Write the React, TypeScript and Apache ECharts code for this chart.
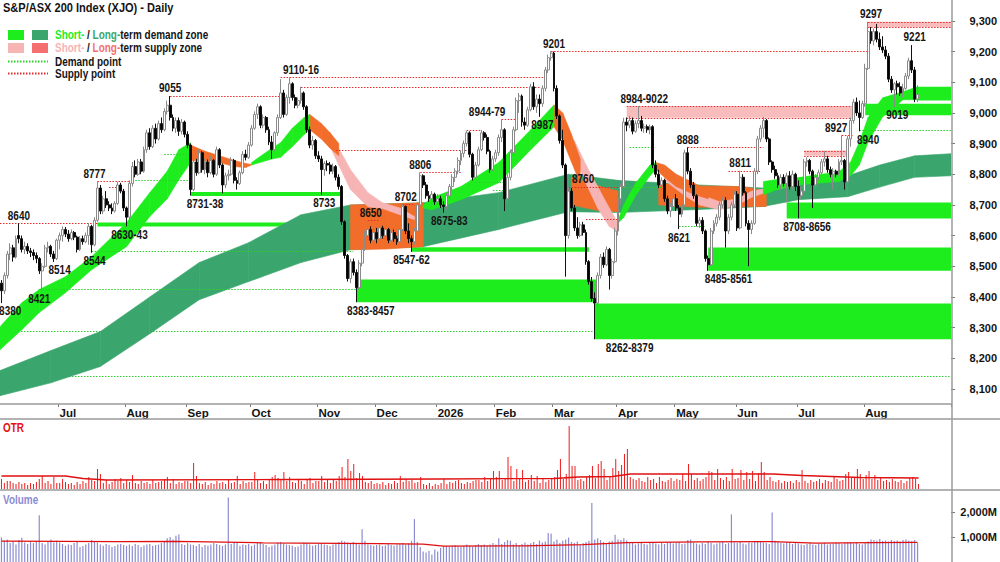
import React, { useEffect, useRef } from "react";
import * as echarts from "echarts";

// ---------------- DATA ----------------
const TOTAL_SLOTS = 327; // trading-day slots incl. blank space at right
const monthStarts = [20, 43, 64, 86, 109, 129, 150, 170, 190, 212, 232, 253, 274, 297];
const monthLabels = ["Jul", "Aug", "Sep", "Oct", "Nov", "Dec", "2026", "Feb", "Mar", "Apr", "May", "Jun", "Jul", "Aug"];
const priceTicks = [8100, 8200, 8300, 8400, 8500, 8600, 8700, 8800, 8900, 9000, 9100, 9200, 9300];
const volumeTicks = [1000, 2000];

// [open, close, low, high]
const jun25 = [[8445,8420,8380,8455],[8420,8470,8410,8480],[8470,8540,8460,8550],[8540,8560,8520,8575],[8560,8530,8515,8570],[8530,8590,8525,8600],[8600,8590,8575,8640],[8590,8555,8545,8600],[8555,8565,8540,8580],[8565,8550,8540,8575],[8550,8545,8530,8560],[8545,8535,8520,8555],[8535,8525,8510,8545],[8525,8485,8475,8530],[8485,8500,8421,8510],[8500,8560,8495,8570],[8560,8565,8545,8580],[8565,8540,8530,8570],[8540,8525,8514,8550],[8525,8585,8520,8590]];
const jul25 = [[8585,8600,8555,8610],[8600,8620,8580,8630],[8620,8605,8595,8628],[8605,8590,8580,8618],[8590,8610,8585,8620],[8610,8595,8585,8615],[8595,8555,8545,8600],[8555,8590,8550,8598],[8590,8580,8570,8600],[8580,8600,8575,8610],[8600,8630,8570,8640],[8630,8570,8544,8635],[8570,8650,8565,8660],[8650,8755,8645,8777],[8755,8680,8670,8765],[8680,8720,8670,8730],[8720,8700,8690,8745],[8700,8690,8680,8712],[8690,8680,8670,8705],[8680,8705,8675,8712],[8705,8765,8700,8775],[8765,8745,8738,8772],[8745,8690,8680,8752]];
const aug25 = [[8690,8660,8630,8695],[8660,8770,8643,8780],[8770,8825,8760,8840],[8825,8800,8790,8845],[8800,8840,8795,8850],[8840,8810,8800,8850],[8810,8880,8805,8890],[8880,8935,8870,8945],[8935,8890,8880,8950],[8890,8950,8885,8960],[8950,8915,8900,8965],[8915,8965,8910,8975],[8965,8945,8935,8985],[8945,9005,8940,9015],[9005,9025,8995,9040],[9025,8985,8975,9055],[8985,8950,8940,8995],[8950,8975,8935,8985],[8975,8940,8925,8985],[8940,8970,8930,8980],[8970,8930,8920,8975]];
const sep25 = [[8930,8895,8885,8940],[8895,8750,8731,8900],[8750,8840,8745,8860],[8840,8805,8795,8850],[8805,8870,8800,8880],[8870,8815,8805,8875],[8815,8840,8800,8850],[8840,8805,8790,8848],[8805,8845,8800,8860],[8845,8800,8790,8850],[8800,8880,8795,8890],[8880,8830,8820,8885],[8830,8765,8738,8835],[8765,8795,8755,8805],[8795,8800,8780,8815],[8800,8845,8795,8855],[8845,8780,8770,8850],[8780,8770,8750,8790],[8770,8805,8765,8812],[8805,8865,8800,8875],[8865,8855,8845,8880],[8855,8895,8850,8905]];
const oct25 = [[8895,8950,8890,8960],[8950,8995,8945,9005],[8995,9020,8980,9030],[9020,8960,8950,9025],[8960,8985,8950,8995],[8985,8945,8935,8990],[8945,8905,8895,8955],[8905,8880,8850,8925],[8880,8935,8875,8940],[8935,8985,8925,8995],[8985,9065,8980,9110],[9065,8995,8985,9075],[8995,9050,8990,9060],[9050,9095,9030,9116],[9095,9050,9040,9100],[9050,9025,9015,9060],[9025,9040,9015,9050],[9040,9065,9030,9085],[9065,9020,9010,9070],[9020,8945,8935,9025],[8945,8895,8885,8955],[8895,8910,8880,8925],[8910,8860,8850,8915]];
const nov25 = [[8860,8850,8840,8875],[8850,8815,8733,8860],[8815,8835,8795,8842],[8835,8830,8810,8845],[8830,8810,8800,8840],[8810,8825,8800,8835],[8825,8790,8780,8830],[8790,8760,8750,8800],[8760,8645,8635,8765],[8645,8535,8525,8650],[8535,8460,8450,8540],[8460,8515,8445,8525],[8515,8480,8470,8525],[8480,8430,8383,8490],[8430,8510,8425,8520],[8510,8555,8500,8565],[8555,8600,8550,8615],[8600,8620,8585,8650],[8620,8585,8575,8630],[8585,8610,8578,8625]];
const dec25 = [[8610,8590,8575,8625],[8590,8625,8585,8635],[8625,8600,8590,8632],[8600,8620,8590,8630],[8620,8585,8575,8625],[8585,8610,8578,8618],[8610,8590,8580,8620],[8590,8580,8570,8600],[8580,8620,8575,8628],[8620,8695,8615,8702],[8695,8615,8605,8698],[8615,8590,8575,8640],[8590,8580,8547,8600],[8580,8615,8570,8625],[8615,8700,8610,8710],[8700,8795,8695,8806],[8795,8765,8755,8800],[8765,8730,8720,8775],[8730,8720,8710,8745],[8720,8735,8715,8745],[8735,8710,8700,8740]];
const jan26 = [[8710,8720,8700,8735],[8720,8700,8690,8730],[8700,8695,8675,8712],[8695,8730,8683,8738],[8730,8760,8720,8768],[8760,8790,8745,8800],[8790,8810,8775,8820],[8810,8845,8800,8855],[8845,8868,8830,8878],[8868,8900,8855,8910],[8900,8935,8890,8942],[8935,8865,8855,8940],[8865,8790,8780,8870],[8790,8830,8785,8840],[8830,8880,8825,8890],[8880,8935,8875,8944],[8935,8920,8910,8940],[8920,8875,8865,8930],[8875,8815,8805,8880],[8815,8850,8810,8860]];
const feb26 = [[8850,8870,8840,8880],[8870,8920,8860,8930],[8920,8945,8905,8979],[8945,8720,8680,8950],[8720,8790,8705,8800],[8790,8870,8780,8880],[8870,8945,8860,8955],[8945,9040,8940,9050],[9040,9055,9000,9065],[9055,8970,8955,9060],[8970,8960,8945,8985],[8960,9010,8955,9020],[9010,9085,9005,9095],[9085,9020,9010,9100],[9020,9045,9000,9060],[9045,9030,8987,9060],[9030,9080,9020,9090],[9080,9140,9070,9150],[9140,9180,9130,9190],[9180,9195,9170,9201]];
const mar26 = [[9195,9080,9070,9200],[9080,8990,8980,9090],[8990,8910,8900,8995],[8910,8830,8820,8945],[8830,8600,8466,8835],[8600,8745,8590,8760],[8745,8690,8680,8755],[8690,8625,8615,8700],[8625,8600,8590,8660],[8600,8635,8595,8645],[8635,8610,8600,8645],[8610,8515,8505,8620],[8515,8450,8440,8520],[8450,8395,8385,8465],[8395,8380,8262,8415],[8380,8470,8370,8480],[8470,8530,8460,8540],[8530,8505,8495,8545],[8505,8555,8500,8565],[8555,8470,8424,8560],[8470,8515,8460,8525],[8515,8615,8510,8625]];
const apr26 = [[8615,8720,8600,8730],[8720,8760,8700,8770],[8760,8970,8755,8984],[8970,8960,8940,8985],[8960,8975,8950,8990],[8975,8940,8930,8985],[8940,8965,8935,8975],[8965,8975,8950,9022],[8975,8950,8940,8990],[8950,8955,8935,8965],[8955,8945,8935,8962],[8945,8955,8930,8962],[8955,8830,8820,8960],[8830,8800,8790,8845],[8800,8765,8755,8815],[8765,8780,8745,8790],[8780,8720,8710,8785],[8720,8680,8670,8730],[8680,8695,8660,8705],[8695,8720,8680,8740]];
const may26 = [[8720,8690,8680,8735],[8690,8670,8621,8700],[8670,8700,8660,8710],[8700,8870,8695,8880],[8870,8810,8800,8888],[8810,8765,8755,8820],[8765,8730,8720,8775],[8730,8640,8630,8735],[8640,8650,8625,8660],[8650,8615,8605,8660],[8615,8525,8515,8620],[8525,8505,8485,8535],[8505,8615,8500,8625],[8615,8640,8605,8650],[8640,8660,8630,8670],[8660,8700,8650,8710],[8700,8715,8690,8725],[8715,8615,8561,8725],[8615,8660,8605,8670],[8660,8700,8650,8710],[8700,8735,8690,8745]];
const jun26 = [[8735,8625,8615,8745],[8625,8790,8620,8811],[8790,8740,8730,8800],[8740,8640,8630,8745],[8640,8620,8500,8650],[8620,8640,8605,8650],[8640,8810,8635,8820],[8810,8915,8800,8925],[8915,8950,8905,8960],[8950,8975,8920,8987],[8975,8915,8905,8980],[8915,8840,8830,8920],[8840,8815,8805,8845],[8815,8795,8785,8828],[8795,8765,8755,8805],[8765,8790,8750,8800],[8790,8770,8760,8800],[8770,8795,8708,8805],[8795,8760,8750,8810],[8760,8800,8750,8812],[8800,8760,8745,8805]];
const jul26 = [[8760,8730,8656,8780],[8730,8745,8720,8760],[8745,8840,8740,8850],[8840,8845,8825,8855],[8845,8810,8800,8850],[8810,8765,8690,8815],[8765,8790,8755,8800],[8790,8805,8780,8815],[8805,8840,8800,8850],[8840,8850,8825,8875],[8850,8815,8805,8860],[8815,8800,8790,8825],[8800,8810,8750,8820],[8810,8800,8790,8815],[8800,8840,8795,8850],[8840,8845,8830,8927],[8845,8775,8750,8850],[8775,8915,8770,8925],[8915,8975,8890,8985],[8975,9035,8965,9045],[9035,9000,8990,9050],[9000,8985,8940,9040],[8985,9030,8980,9040]];
const aug26 = [[9030,9145,9020,9160],[9145,9265,9140,9297],[9265,9235,9225,9280],[9235,9265,9220,9275],[9265,9240,9230,9290],[9240,9215,9205,9262],[9215,9205,9195,9250],[9205,9185,9175,9218],[9185,9110,9100,9195],[9110,9075,9065,9120],[9075,9095,9019,9100],[9095,9085,9060,9105],[9085,9065,9055,9100],[9065,9080,9050,9095],[9080,9120,9075,9130],[9120,9170,9110,9180],[9170,9140,9130,9221],[9140,9045,9035,9150],[9045,9060,9035,9090]];

// OTR (relative units)
const otrJun25 = [10,6,8,8,6,5,7,5,6,4,6,5,7,10,13,6,8,5,12,6];
const otrJul25 = [6,10,7,5,6,4,7,5,8,6,12,9,8,20,15,6,9,5,7,10,8,11,6];
const otrAug25 = [9,7,14,6,5,8,6,7,5,9,6,7,8,10,12,6,10,5,7,6,8];
const otrSep25 = [8,6,26,13,6,5,7,4,6,5,8,6,7,5,9,6,7,13,5,8,6,7];
const otrOct25 = [7,17,9,6,8,5,10,12,14,11,9,17,8,12,7,6,10,8,5,9,11,6,8];
const otrNov25 = [8,13,7,9,6,10,8,13,22,12,30,18,25,11,16,13,7,6,8,5];
const otrDec25 = [6,5,7,4,6,5,8,6,13,7,10,8,9,6,7,12,5,4,6,3,5];
const otrJan26 = [4,6,10,5,7,6,8,9,6,5,7,6,8,9,9,7,12,8,10,18];
const otrFeb26 = [12,18,9,10,32,23,8,20,11,19,7,9,14,8,13,6,10,7,9,11];
const otrMar26 = [12,19,30,10,15,63,23,23,9,10,8,12,14,23,11,25,28,20,9,12,21,30];
const otrApr26 = [18,24,35,40,12,10,9,11,8,7,12,9,10,6,12,8,7,9,11,8];
const otrMay26 = [10,9,15,8,25,15,9,11,8,10,12,18,17,9,20,11,9,12,8,20,10];
const otrJun26 = [11,19,9,17,10,18,8,16,27,17,9,12,8,7,9,6,8,7,8,6,9];
const otrJul26 = [7,19,8,6,9,7,8,10,6,9,8,7,12,10,8,9,15,17,11,12,20,15,10];
const otrAug26 = [14,18,10,14,9,12,8,9,7,10,8,7,9,6,8,11,12,10,5];
const otrAvgKnots = [[0,13],[22,13],[28,10.5],[36,9],[100,9.5],[150,10],[190,10.5],[198,12],[210,12.5],[216,15],[265,15],[275,13.5],[285,12.5],[295,11.5],[315,11]];

// Volume (millions)
const volJun25 = [980,850,900,760,820,700,880,970,780,720,800,760,840,1870,760,700,820,900,780,850];
const volJul25 = [780,720,650,700,680,760,820,600,640,700,760,880,800,780,700,650,720,680,600,640,700,720,680];
const volAug25 = [650,700,640,720,680,600,660,700,720,650,680,700,760,820,950,1000,900,1050,1100,720,680];
const volSep25 = [760,700,680,640,720,600,680,650,700,760,720,680,640,700,2580,720,800,780,650,700,680,720];
const volOct25 = [640,700,760,800,720,680,600,650,700,780,800,750,700,680,650,600,620,700,780,760,700,650,680];
const volNov25 = [720,760,700,680,640,700,760,800,850,820,780,760,800,720,700,1310,850,700,680,650];
const volDec25 = [680,700,640,660,720,680,650,700,720,760,700,740,850,1720,800,600,420,380,450,300,500];
const volJan26 = [420,560,620,640,600,650,680,620,600,640,700,650,620,680,720,680,700,650,700,760];
const volFeb26 = [700,950,720,800,880,850,700,760,680,720,780,700,750,800,720,860,780,820,1160,1140];
const volMar26 = [820,900,760,850,900,980,800,760,820,700,760,800,850,2360,900,950,880,800,760,820,850,1090];
const volApr26 = [900,880,950,860,800,760,700,740,780,720,700,760,800,740,700,760,720,780,800,740];
const volMay26 = [760,800,720,740,880,900,780,740,700,760,720,800,760,700,740,780,800,720,760,1910,780];
const volJun26 = [760,800,740,700,780,760,820,800,840,780,760,720,1980,850,800,760,740,800,780,720,760];
const volJul26 = [740,700,680,720,760,700,680,720,740,760,700,720,740,780,760,720,760,800,780,740,760,720,700];
const volAug26 = [760,820,900,880,860,920,840,860,820,880,840,860,820,880,900,860,840,880,760];
const volAvgKnots = [[0,840],[40,820],[60,830],[90,770],[130,740],[145,720],[152,640],[180,650],[200,700],[215,780],[240,810],[265,820],[280,760],[300,780],[315,790]];

// Bands: [slot, lower, upper]
const longTermBand = [[0,8078,8160],[17,8120,8225],[34,8173,8287],[51,8280,8400],[68,8391,8512],[85,8450,8577],[103,8512,8668],[120,8554,8700],[145,8564,8707],[171,8620,8740],[195,8678,8800],[212,8675,8780],[240,8685,8765],[262,8695,8755],[274,8717,8766],[291,8727,8795],[302,8758,8830],[314,8790,8860],[326,8795,8867]];
const longTermSupply = [
  [[120,8554,8700],[132,8556,8703],[145,8564,8707]],
  [[196,8700,8790],[206,8680,8760],[212,8678,8745]],
  [[226,8700,8770],[240,8692,8762],[255,8694,8760],[263,8695,8745]],
];
const shortTermDemand = [
  [[0,8228,8303],[7,8293,8381],[13,8349,8424],[22,8414,8466],[31,8489,8531],[43,8564,8642],[51,8662,8740],[57,8720,8810],[61,8782,8880],[65,8838,8903]],
  [[86,8830,8838],[93,8850,8885],[96,8855,8903],[100,8890,8950],[104,8929,8984],[106,8945,8995]],
  [[145,8690,8700],[148,8684,8723],[158,8717,8760],[171,8772,8838],[182,8880,8945],[190,8955,9026]],
  [[212,8640,8650],[214,8660,8700],[218,8730,8770],[223,8795,8830],[225,8815,8838]],
  [[262,8733,8776],[266,8748,8782],[274,8766,8789],[288,8776,8808],[292,8795,8840],[295,8830,8905],[298,8905,8985],[303,8987,9049],[310,9043,9069],[315,9043,9085]],
];
const shortTermSupply = [
  [[65,8845,8895],[70,8843,8875],[75,8838,8860],[80,8825,8845],[84,8822,8835],[86,8830,8832]],
  [[106,8945,8995],[110,8915,8965],[113,8885,8935],[116,8860,8900]],
  [[190,8955,9026],[193,8910,9000],[196,8840,8930],[199,8770,8850]],
  [[225,8815,8838],[228,8790,8830],[232,8760,8800],[238,8735,8772],[243,8720,8745]],
];
const shortTermSupplyFade = [
  [[113,8890,8935],[118,8790,8850],[120,8750,8815],[126,8694,8740],[131,8688,8707],[137,8668,8690],[142,8652,8662]],
  [[197,8860,8910],[201,8770,8830],[205,8690,8760],[209,8630,8690],[212,8613,8640]],
  [[228,8780,8800],[235,8730,8770],[240,8700,8735],[247,8684,8710],[253,8700,8720],[258,8725,8745],[262,8738,8752]],
];

// Horizontal zones: [startSlot, endSlot, low, high]
const demandZones = [[33,105,8630,8643],[65,117,8729,8742],[122,205,8383,8457],[141,202,8547,8562],[204,326,8262,8379],[243,326,8485,8561],[270,326,8656,8708],[297,326,8992,9030],[315,326,9040,9085]];
const supplyZones = [[215,293,8984,9022],[276,291,8860,8877],[298,326,9280,9297]];

// Dotted points: [startSlot, endSlot, level]
const supplyPoints = [[0,33,8640],[33,44,8777],[37,41,8760],[58,96,9055],[96,187,9116],[103,185,9085],[189,298,9201],[115,160,8880],[144,158,8806],[138,142,8702],[126,130,8650],[160,165,8944],[172,177,8979],[195,214,8760],[201,212,8655],[236,262,8888],[250,261,8811],[289,293,8927]];
const demandPoints = [[0,326,8290],[0,326,8143],[13,122,8427],[31,121,8551],[45,66,8782],[56,64,8867],[163,173,8775],[169,175,8750],[216,223,8890],[213,227,8760],[233,242,8630],[295,326,8945]];

// Annotations: [text, slot, level]
const supplyLabels = [["8640",6,8640],["8777",32,8777],["9055",58,9055],["9110-16",103,9116],["8650",127,8650],["8702",139,8702],["8806",144,8806],["8944-79",167,8979],["9201",190,9201],["8760",200,8760],["8984-9022",221,9022],["8888",236,8888],["8811",254,8811],["8927",287,8927],["9297",299,9297],["9221",314,9221]];
const demandLabels = [["8380",3,8380],["8421",13,8421],["8514",20,8514],["8544",32,8544],["8630-43",44,8630],["8731-38",70,8731],["8733",111,8733],["8383-8457",127,8383],["8547-62",141,8547],["8675-83",154,8675],["8987",186,8987],["8262-8379",216,8262],["8621",233,8621],["8485-8561",250,8485],["8708-8656",277,8656],["8940",298,8940],["9019",308,9019]];

// ---------------- STYLE ----------------
const FONT = "Liberation Sans, Arial, sans-serif";
const NARROW = 0.83; // horizontal squeeze to mimic the condensed face of the original
const COL = {
  bright: "#1ded1d",
  dark: "#3aa66d",
  orange: "#f26c2a",
  pink: "#f7b4b4",
  supplyZone: "#f8bcbc",
  salmon: "#f47070",
  red: "#e52c2c",
  green: "#2ccf2c",
  axis: "#9a9a9a",
  text: "#141414",
  otr: "#ee1c1c",
  vol: "#8c8cd2",
};
const LAST = TOTAL_SLOTS - 1;

function buildOption() {
  const candles = [...jun25, ...jul25, ...aug25, ...sep25, ...oct25, ...nov25, ...dec25, ...jan26, ...feb26, ...mar26, ...apr26, ...may26, ...jun26, ...jul26, ...aug26];
  const otr = [...otrJun25, ...otrJul25, ...otrAug25, ...otrSep25, ...otrOct25, ...otrNov25, ...otrDec25, ...otrJan26, ...otrFeb26, ...otrMar26, ...otrApr26, ...otrMay26, ...otrJun26, ...otrJul26, ...otrAug26];
  const vol = [...volJun25, ...volJul25, ...volAug25, ...volSep25, ...volOct25, ...volNov25, ...volDec25, ...volJan26, ...volFeb26, ...volMar26, ...volApr26, ...volMay26, ...volJun26, ...volJul26, ...volAug26];
  const cats = Array.from({ length: TOTAL_SLOTS }, (_, i) => String(i));
  const monthMap = new Map<number, string>();
  monthStarts.forEach((s, k) => monthMap.set(s, monthLabels[k]));

  const xPix = (params: any, api: any, idx: number) => {
    const cs = params.coordSys;
    if (idx <= 0) return cs.x;
    if (idx >= LAST) return cs.x + cs.width;
    return api.coord([idx, priceTicks[0]])[0];
  };
  const yPix = (api: any, v: number) => api.coord([0, v])[1];

  const bandSeries = (segs: number[][][], color: string, z: number) => {
    const items: number[][] = [];
    segs.forEach((seg) => {
      for (let k = 0; k < seg.length - 1; k++) items.push([seg[k][0], seg[k][1], seg[k][2], seg[k + 1][0], seg[k + 1][1], seg[k + 1][2]]);
    });
    return {
      type: "custom", xAxisIndex: 0, yAxisIndex: 0, z, silent: true, clip: true,
      data: items,
      encode: { x: [0, 3], y: [1, 2, 4, 5] },
      renderItem: (params: any, api: any) => {
        const x0 = xPix(params, api, api.value(0));
        const x1 = xPix(params, api, api.value(3));
        return {
          type: "polygon",
          shape: { points: [[x0, yPix(api, api.value(1))], [x1, yPix(api, api.value(4))], [x1, yPix(api, api.value(5))], [x0, yPix(api, api.value(2))]] },
          style: { fill: color, stroke: color, lineWidth: 0.6 },
        };
      },
    };
  };

  const rectSeries = (zones: number[][], color: string, z: number) => ({
    type: "custom", xAxisIndex: 0, yAxisIndex: 0, z, silent: true, clip: true,
    data: zones,
    encode: { x: [0, 1], y: [2, 3] },
    renderItem: (params: any, api: any) => {
      const x0 = xPix(params, api, api.value(0));
      const x1 = xPix(params, api, api.value(1));
      const y0 = yPix(api, api.value(3));
      const y1 = yPix(api, api.value(2));
      return { type: "rect", shape: { x: x0, y: y0, width: x1 - x0, height: Math.max(1, y1 - y0) }, style: { fill: color } };
    },
  });

  const dottedSeries = (pts: number[][], color: string, z: number) => ({
    type: "custom", xAxisIndex: 0, yAxisIndex: 0, z, silent: true, clip: true,
    data: pts,
    encode: { x: [0, 1], y: [2] },
    renderItem: (params: any, api: any) => {
      const x0 = xPix(params, api, api.value(0));
      const x1 = xPix(params, api, api.value(1));
      const y = Math.round(yPix(api, api.value(2))) + 0.5;
      return { type: "line", shape: { x1: x0, y1: y, x2: x1, y2: y }, style: { stroke: color, lineWidth: 1, lineDash: [1.5, 1.5] } };
    },
  });

  const supplyEdges: number[][] = [];
  supplyZones.forEach((zn) => { supplyEdges.push([zn[0], zn[1], zn[2]]); supplyEdges.push([zn[0], zn[1], zn[3]]); });

  // annotation texts, drawn through the axes, squeezed horizontally
  const labelSeries = (labels: any[], above: boolean) => ({
    type: "custom", xAxisIndex: 0, yAxisIndex: 0, z: 20, silent: true, clip: false,
    data: labels.map((l, k) => [l[1], l[2], k]),
    encode: { x: [0], y: [1] },
    renderItem: (params: any, api: any) => {
      const p = api.coord([api.value(0), api.value(1)]);
      const text = labels[api.value(2)][0];
      return {
        type: "text", x: p[0], y: above ? p[1] - 2 : p[1] + 2, scaleX: NARROW,
        style: { text, fill: COL.text, font: `bold 12px ${FONT}`, align: "center", verticalAlign: above ? "bottom" : "top" },
      };
    },
  });

  const avgLine = (knots: number[][], x: number, color: string) => ({
    type: "line", xAxisIndex: x, yAxisIndex: x, z: 5, silent: true, showSymbol: false, symbol: "none",
    data: knots, lineStyle: { color, width: 1.3 },
  });

  const labelFont = { fontFamily: FONT, fontWeight: "bold", fontSize: 11, color: COL.text };

  const hiddenX = (g: number) => ({ type: "category", gridIndex: g, data: cats, boundaryGap: true, show: false });

  const legendText = (x: number, y: number, text: string, rich?: any, fill = COL.text, size = 12, sx = NARROW) => ({
    type: "text", x, y, scaleX: sx, silent: true,
    style: { text, fill, font: `bold ${size}px ${FONT}`, verticalAlign: "middle", rich },
  });
  const richBase = { fontFamily: FONT, fontWeight: "bold", fontSize: 12 };

  return {
    animation: false,
    backgroundColor: "#ffffff",
    grid: [
      { left: 0, right: 48, top: 0, height: 404 },
      { left: 0, right: 48, top: 419, height: 70 },
      { left: 0, right: 48, top: 490, height: 75 },
    ],
    xAxis: [
      {
        type: "category", gridIndex: 0, data: cats, boundaryGap: true,
        axisLine: { show: false },
        axisTick: { show: true, interval: (idx: number) => monthMap.has(idx), length: 3, lineStyle: { color: "#777" } },
        axisLabel: { interval: (idx: number) => monthMap.has(idx), formatter: (v: string) => monthMap.get(Number(v)) || "", align: "left", margin: 3, ...labelFont, fontSize: 11.5 },
        splitLine: { show: false },
      },
      hiddenX(1),
      hiddenX(2),
    ],
    yAxis: [
      {
        type: "value", gridIndex: 0, position: "right", min: 8051, max: 9368, scale: true,
        splitLine: { show: false }, axisLine: { show: false },
        axisTick: { show: true, length: 4, customValues: priceTicks, lineStyle: { color: "#777" } },
        axisLabel: { customValues: priceTicks, formatter: (v: number) => v.toLocaleString("en-US"), align: "right", margin: 46, ...labelFont },
      },
      { type: "value", gridIndex: 1, position: "right", min: 0, max: 70, show: false, splitLine: { show: false } },
      {
        type: "value", gridIndex: 2, position: "right", min: 0, max: 2885,
        splitLine: { show: false }, axisLine: { show: false },
        axisTick: { show: true, length: 4, customValues: volumeTicks, lineStyle: { color: "#777" } },
        axisLabel: { customValues: volumeTicks, formatter: (v: number) => v.toLocaleString("en-US") + "M", align: "right", margin: 46, ...labelFont },
      },
    ],
    series: [
      dottedSeries(demandPoints.filter((p) => p[1] - p[0] > 200), COL.green, 1),
      rectSeries(demandZones, COL.bright, 2),
      bandSeries([longTermBand], COL.dark, 3),
      bandSeries(longTermSupply, COL.orange, 4),
      bandSeries(shortTermSupplyFade, COL.pink, 5),
      bandSeries(shortTermSupply, COL.orange, 6),
      bandSeries(shortTermDemand, COL.bright, 7),
      rectSeries(supplyZones, COL.supplyZone, 7),
      dottedSeries(demandPoints.filter((p) => p[1] - p[0] <= 200), COL.green, 8),
      dottedSeries(supplyPoints.concat(supplyEdges), COL.red, 8),
      {
        type: "candlestick", xAxisIndex: 0, yAxisIndex: 0, z: 10, silent: true,
        data: candles, barWidth: 2.4,
        itemStyle: { color: "#ffffff", color0: "#000000", borderColor: "#8a8a8a", borderColor0: "#111111", borderWidth: 1 },
      },
      labelSeries(supplyLabels, true),
      labelSeries(demandLabels, false),
      { type: "bar", xAxisIndex: 1, yAxisIndex: 1, data: otr, barWidth: 1, silent: true, itemStyle: { color: COL.otr } },
      avgLine(otrAvgKnots, 1, "#e01010"),
      { type: "bar", xAxisIndex: 2, yAxisIndex: 2, data: vol, barWidth: 1.2, silent: true, itemStyle: { color: COL.vol } },
      avgLine(volAvgKnots, 2, "#e01010"),
    ],
    graphic: [
      { type: "line", silent: true, z: 50, shape: { x1: 0, y1: 404, x2: 952, y2: 404 }, style: { stroke: COL.axis, lineWidth: 1.5 } },
      { type: "line", silent: true, z: 50, shape: { x1: 0, y1: 419, x2: 1000, y2: 419 }, style: { stroke: COL.axis, lineWidth: 1.5 } },
      { type: "line", silent: true, z: 50, shape: { x1: 0, y1: 490, x2: 1000, y2: 490 }, style: { stroke: COL.axis, lineWidth: 1.5 } },
      { type: "line", silent: true, z: 50, shape: { x1: 952, y1: 0, x2: 952, y2: 562 }, style: { stroke: COL.axis, lineWidth: 1.5 } },
      legendText(3, 8, "S&P/ASX 200 Index (XJO) - Daily", undefined, COL.text, 13, 0.85),
      { type: "rect", silent: true, shape: { x: 8, y: 30, width: 16, height: 10 }, style: { fill: COL.bright } },
      { type: "rect", silent: true, shape: { x: 32, y: 30, width: 16, height: 10 }, style: { fill: COL.dark } },
      { type: "rect", silent: true, shape: { x: 8, y: 43, width: 16, height: 10 }, style: { fill: COL.pink } },
      { type: "rect", silent: true, shape: { x: 32, y: 43, width: 16, height: 10 }, style: { fill: COL.salmon } },
      legendText(55, 35, "{g|Short-}{k| / }{d|Long-}{k|term demand zone}", {
        g: { ...richBase, fill: COL.bright }, d: { ...richBase, fill: COL.dark }, k: { ...richBase, fill: COL.text },
      }),
      legendText(55, 48, "{g|Short-}{k| / }{d|Long-}{k|term supply zone}", {
        g: { ...richBase, fill: COL.pink }, d: { ...richBase, fill: COL.salmon }, k: { ...richBase, fill: COL.text },
      }),
      { type: "line", silent: true, shape: { x1: 8, y1: 61.5, x2: 48, y2: 61.5 }, style: { stroke: COL.green, lineWidth: 2, lineDash: [1.5, 1.5] } },
      legendText(55, 62, "Demand point"),
      { type: "line", silent: true, shape: { x1: 8, y1: 73.5, x2: 48, y2: 73.5 }, style: { stroke: COL.red, lineWidth: 2, lineDash: [1.5, 1.5] } },
      legendText(55, 74, "Supply point"),
      legendText(3, 428, "OTR", undefined, "#e81010"),
      legendText(3, 500, "Volume", undefined, COL.vol),
    ],
  };
}

export default function App() {
  const ref = useRef<HTMLDivElement>(null);
  useEffect(() => {
    if (!ref.current) return;
    const chart = echarts.init(ref.current, undefined, { renderer: "svg" });
    chart.setOption(buildOption() as any);
    return () => chart.dispose();
  }, []);
  return (
    <div
      ref={ref}
      style={{ position: "fixed", left: 0, top: 0, width: 1000, height: 562, background: "#fff" }}
    />
  );
}
